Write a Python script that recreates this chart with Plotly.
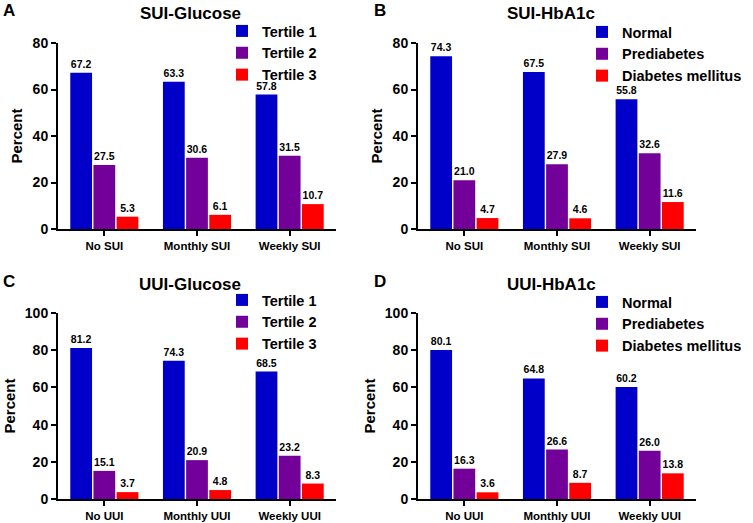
import plotly.graph_objects as go

# ---- data ----
sui_categories = ["No SUI", "Monthly SUI", "Weekly SUI"]
uui_categories = ["No UUI", "Monthly UUI", "Weekly UUI"]
glucose_groups = ["Tertile 1", "Tertile 2", "Tertile 3"]
hba1c_groups = ["Normal", "Prediabetes", "Diabetes mellitus"]

# Panel A: SUI-Glucose (rows = groups, columns = categories)
sui_glucose_t1 = [67.2, 63.3, 57.8]
sui_glucose_t2 = [27.5, 30.6, 31.5]
sui_glucose_t3 = [5.3, 6.1, 10.7]

# Panel B: SUI-HbA1c
sui_hba1c_normal = [74.3, 67.5, 55.8]
sui_hba1c_pre = [21.0, 27.9, 32.6]
sui_hba1c_dm = [4.7, 4.6, 11.6]

# Panel C: UUI-Glucose
uui_glucose_t1 = [81.2, 74.3, 68.5]
uui_glucose_t2 = [15.1, 20.9, 23.2]
uui_glucose_t3 = [3.7, 4.8, 8.3]

# Panel D: UUI-HbA1c
uui_hba1c_normal = [80.1, 64.8, 60.2]
uui_hba1c_pre = [16.3, 26.6, 26.0]
uui_hba1c_dm = [3.6, 8.7, 13.8]

colors = ["#0000C8", "#730099", "#FF0000"]
FONT = "Liberation Sans, Arial, sans-serif"
W, H = 753, 523

panels = [
    dict(cats=sui_categories, groups=glucose_groups,
         vals=[sui_glucose_t1, sui_glucose_t2, sui_glucose_t3],
         title="SUI-Glucose", letter="A", ymax=80, ax=""),
    dict(cats=sui_categories, groups=hba1c_groups,
         vals=[sui_hba1c_normal, sui_hba1c_pre, sui_hba1c_dm],
         title="SUI-HbA1c", letter="B", ymax=80, ax="2"),
    dict(cats=uui_categories, groups=glucose_groups,
         vals=[uui_glucose_t1, uui_glucose_t2, uui_glucose_t3],
         title="UUI-Glucose", letter="C", ymax=100, ax="3"),
    dict(cats=uui_categories, groups=hba1c_groups,
         vals=[uui_hba1c_normal, uui_hba1c_pre, uui_hba1c_dm],
         title="UUI-HbA1c", letter="D", ymax=100, ax="4"),
]

# pixel layout
x_px = [(58, 336), (418, 696), (58, 336), (418, 696)]
y_px = [(43, 229), (43, 229), (313, 499), (313, 499)]
title_px = [(190, 14), (551, 14), (190, 284), (551, 284)]
letter_px = [(9, 10), (380, 10), (9, 281), (380, 281)]
legend_px = [(222, 15), (582, 16), (222, 284), (582, 286)]

fig = go.Figure()
layout = dict(width=W, height=H, margin=dict(l=0, r=0, t=0, b=0),
              paper_bgcolor="white", plot_bgcolor="white",
              barmode="group", bargap=0.25, bargroupgap=0.06,
              font=dict(family=FONT, color="black"),
              annotations=[])

for i, p in enumerate(panels):
    ax = p["ax"]
    legname = "legend" if ax == "" else "legend" + ax
    for g, name in enumerate(p["groups"]):
        fig.add_trace(go.Bar(
            x=p["cats"], y=p["vals"][g], name=name,
            marker=dict(color=colors[g], line=dict(width=0)),
            texttemplate="%{y:.1f}", textposition="outside",
            textfont=dict(family=FONT, size=10.5, color="black", weight="bold"),
            cliponaxis=False,
            xaxis="x" + ax, yaxis="y" + ax, legend=legname,
        ))
    x0, x1 = x_px[i]
    y0, y1 = y_px[i]
    layout["xaxis" + ax] = dict(
        domain=[x0 / W, x1 / W], anchor="y" + ax, range=[-0.5, 2.5],
        showline=True, linecolor="black", linewidth=2,
        ticks="outside", ticklen=5, tickwidth=2, tickcolor="black",
        tickfont=dict(family=FONT, size=11.5, weight="bold"),
        showgrid=False, zeroline=False, automargin=False, fixedrange=True)
    layout["yaxis" + ax] = dict(
        domain=[1 - y1 / H, 1 - y0 / H], anchor="x" + ax, range=[0, p["ymax"]],
        dtick=20, showline=True, linecolor="black", linewidth=2,
        ticks="outside", ticklen=5, tickwidth=2, tickcolor="black",
        tickfont=dict(family=FONT, size=14, weight="bold"),
        title=dict(text="Percent", font=dict(family=FONT, size=15, weight="bold"),
                   standoff=6),
        showgrid=False, zeroline=False, automargin=False, fixedrange=True)
    lx, ly = legend_px[i]
    layout[legname] = dict(
        x=lx / W, y=1 - ly / H, xanchor="left", yanchor="top",
        bgcolor="rgba(0,0,0,0)", borderwidth=0,
        font=dict(family=FONT, size=14.5, weight="bold"),
        tracegroupgap=0, itemclick=False, itemdoubleclick=False)
    tx, ty = title_px[i]
    layout["annotations"].append(dict(
        text=p["title"], x=tx / W, y=1 - ty / H, xref="paper", yref="paper",
        xanchor="center", yanchor="middle", showarrow=False,
        font=dict(family=FONT, size=17, weight="bold")))
    lx2, ly2 = letter_px[i]
    layout["annotations"].append(dict(
        text=p["letter"], x=lx2 / W, y=1 - ly2 / H, xref="paper", yref="paper",
        xanchor="center", yanchor="middle", showarrow=False,
        font=dict(family=FONT, size=17, weight="bold")))

fig.update_layout(**layout)
fig.write_html("out.html", config={"displayModeBar": False},
               post_script="document.body.style.margin='0px';document.body.style.overflow='hidden';")
